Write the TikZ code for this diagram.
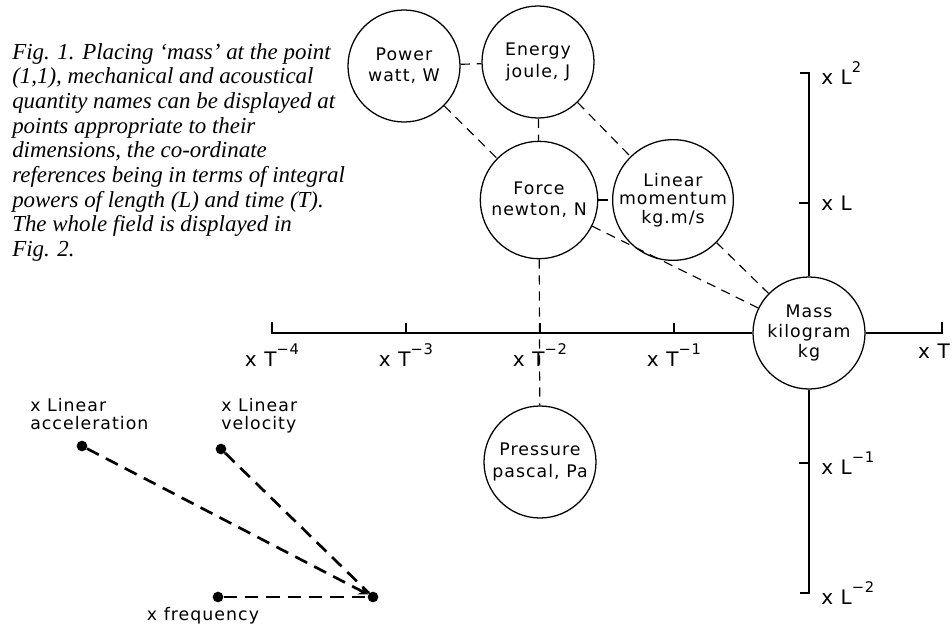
\documentclass[tikz,border=0pt]{standalone}
\usepackage{fontspec}
\setmainfont{Liberation Serif}
\setsansfont{DejaVu Sans}[LetterSpace=6.0]
\usetikzlibrary{arrows,positioning,calc}

\newcommand{\axsup}[1]{\raisebox{1.1ex}{\fontsize{11}{11}\selectfont #1}}

\tikzset{
  qty/.style={circle, draw, line width=0.95pt, minimum size=84pt, inner sep=0pt,
    align=center, font=\sffamily\fontsize{13}{16}\selectfont},
  link/.style={line width=0.85pt, dash pattern=on 7pt off 5pt},
  axis/.style={line width=1pt},
  axlabel/.style={font=\sffamily\fontsize{15}{15}\selectfont, inner sep=0pt},
  ratelabel/.style={font=\sffamily\fontsize{13}{13.5}\selectfont, inner sep=0pt, align=left},
  rate/.style={line width=2pt, dash pattern=on 10pt off 6pt},
  dot/.style={circle, fill, inner sep=0pt, minimum size=8pt},
}

\begin{document}
\begin{tikzpicture}[x=0.75pt, y=-0.75pt]
    \useasboundingbox (0,0) rectangle (952,628);

    % Caption
    \node[anchor=north west, inner sep=0pt, align=left,
      font=\itshape\fontsize{17.2}{18.5}\selectfont] (caption) at (12,43)
      {Fig. 1. Placing ‘mass’ at the point\\
       (1,1), mechanical and acoustical\\
       quantity names can be displayed at\\
       points appropriate to their\\
       dimensions, the co-ordinate\\
       references being in terms of integral\\
       powers of length (L) and time (T).\\
       The whole field is displayed in\\
       Fig. 2.};

    % Quantities
    \node[qty] (power) at (404,66) {Power\\watt, W};
    \node[qty] (energy) at (538,62) {Energy\\joule, J};
    \node[qty, minimum size=88pt] (force) at (539,200) {Force\\newton, N};
    \node[qty, minimum size=80pt, font=\sffamily\fontsize{13}{14}\selectfont]
      (momentum) at (673,200) {Linear\\momentum\\kg.m/s};
    \node[qty, font=\sffamily\fontsize{13}{15}\selectfont]
      (mass) at (809,333) {Mass\\kilogram\\kg};
    \node[qty] (pressure) at (540,462) {Pressure\\pascal, Pa};

    % Axes
    \coordinate (t4) at (272,333);
    \coordinate (t3) at (406,333);
    \coordinate (t2) at (540,333);
    \coordinate (t1) at (674,333);
    \coordinate (t0) at (942,333);
    \coordinate (l2) at (809,73);
    \coordinate (l1) at (809,203);
    \coordinate (lm1) at (809,463);
    \coordinate (lm2) at (809,593);
    \draw[axis] (t4) ++(0,-11) -- (t4) -- (mass.west);
    \draw[axis] (mass.east) -- (t0) -- ++(0,-11);
    \foreach \c in {t3,t2,t1} \draw[axis] (\c) -- ++(0,-10);
    \draw[axis] (l2) ++(-9,0) -- (l2) -- (mass.north);
    \draw[axis] (mass.south) -- (lm2) -- ++(-9,0);
    \foreach \c in {l1,lm1} \draw[axis] (\c) -- ++(-10,0);

    \node[axlabel, below=8pt of t4] {x T\axsup{−4}};
    \node[axlabel, below=8pt of t3] {x T\axsup{−3}};
    \node[axlabel, below=8pt of t2] {x T\axsup{−2}};
    \node[axlabel, below=8pt of t1] {x T\axsup{−1}};
    \node[axlabel, below=8pt of t0, xshift=-6pt] {x T};
    \node[axlabel, right=9pt of l2] {x L\axsup{2}};
    \node[axlabel, right=9pt of l1] {x L};
    \node[axlabel, right=9pt of lm1] {x L\axsup{−1}};
    \node[axlabel, right=9pt of lm2] {x L\axsup{−2}};

    % Dimensional links
    \draw[link] (power) -- (energy);
    \draw[link] (energy) -- (force);
    \draw[link] (power) -- (force);
    \draw[link] (energy) -- (momentum);
    \draw[link] (force) -- (momentum);
    \draw[link] (force) -- (mass);
    \draw[link] (momentum) -- (mass);
    \draw[link] (force) -- (pressure);

    % Rates
    \node[dot] (accel) at (82,446) {};
    \node[dot] (veloc) at (221,449) {};
    \node[dot] (freq) at (218,597) {};
    \node[dot] (sink) at (373,597) {};
    \node[ratelabel, anchor=north west] at (30,398) {x Linear\\acceleration};
    \node[ratelabel, anchor=north west] at (221,398) {x Linear\\velocity};
    \node[ratelabel, anchor=north] at (203,607) {x frequency};
    \draw[rate, ->, >=stealth] (accel) -- (sink);
    \draw[rate] (veloc) -- (sink);
    \draw[rate] (freq) -- (sink);
\end{tikzpicture}
\end{document}
